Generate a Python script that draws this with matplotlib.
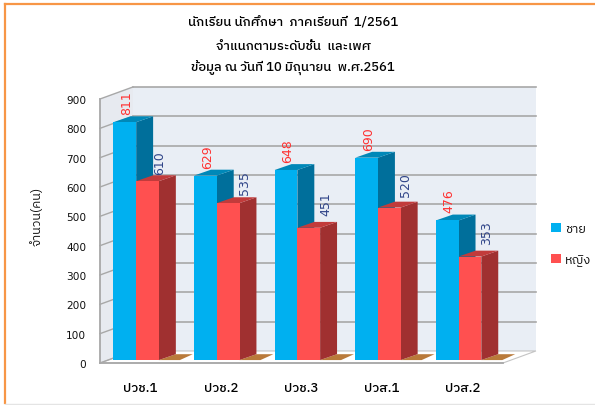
import matplotlib
matplotlib.use("Agg")
import matplotlib.pyplot as plt
from matplotlib.patches import Polygon, Patch
from matplotlib.lines import Line2D
from matplotlib import font_manager as fm

categories = ["ปวช.1", "ปวช.2", "ปวช.3", "ปวส.1", "ปวส.2"]
male = [811, 629, 648, 690, 476]
female = [610, 535, 451, 520, 353]
y_ticks = [0, 100, 200, 300, 400, 500, 600, 700, 800, 900]
title_lines = ["นักเรียน นักศึกษา  ภาคเรียนที่  1/2561",
               "จำแนกตามระดับชั้น  และเพศ",
               "ข้อมูล ณ วันที่ 10 มิถุนายน  พ.ศ.2561"]
series_names = ["ชาย", "หญิง"]

thai = [f.name for f in fm.fontManager.ttflist if "Thai" in f.name]
plt.rcParams["font.family"] = thai[:1] + ["DejaVu Sans"]

W, H = 595, 406
PX_X = 5 / 403      # category units per pixel
PX_Y = 900 / 264    # value units per pixel
fig = plt.figure(figsize=(W / 100, H / 100), dpi=100, facecolor="white")
ax = fig.add_axes([100 / W, (H - 364) / H, 403 / W, 264 / H])
ax.set_xlim(0, 5)
ax.set_ylim(0, 900)
ax.patch.set_visible(False)

WALL_DX, WALL_DY = 0.409, 41
BAR_DX, BAR_DY = 0.21, 20
BAR_W, BAR_X0, BAR_Y0 = 0.282, 0.167, 10
GRID = "#A8A8A8"
# per-label layout nudges in pixels (right of bar centre, above bar top)
FEMALE_LABEL_RIGHT = (12.5, 16, 17.5, 16.5, 17)
FEMALE_LABEL_GAP = (7, 9, 13, 12, 13)

def poly(pts, color, z, edge="none", lw=0):
    ax.add_patch(Polygon(pts, closed=True, facecolor=color, edgecolor=edge,
                         linewidth=lw, zorder=z, clip_on=False))

# walls and floor
poly([(WALL_DX, WALL_DY), (5 + WALL_DX, WALL_DY), (5 + WALL_DX, 900 + WALL_DY), (WALL_DX, 900 + WALL_DY)], "#E9EEF5", 1)
poly([(0, 0), (WALL_DX, WALL_DY), (WALL_DX, 900 + WALL_DY), (0, 900)], "#E7EAF0", 1)
poly([(0, 0), (5, 0), (5 + WALL_DX, WALL_DY), (WALL_DX, WALL_DY)], "white", 1.5, edge="#C4C4C4", lw=0.8)
for v in y_ticks:
    if v > 0:
        ax.plot([WALL_DX, 5 + WALL_DX], [v + WALL_DY, v + WALL_DY], color=GRID, lw=1.2, zorder=2, clip_on=False)
    ax.plot([0, WALL_DX], [v, v + WALL_DY], color=GRID, lw=1.0, zorder=2, clip_on=False)

def bar(x, v, front, top, side, z):
    y0, y1 = BAR_Y0, BAR_Y0 + v
    poly([(x + BAR_W, y0), (x + BAR_W + BAR_DX, y0 + BAR_DY), (x + BAR_W + BAR_DX, y1 + BAR_DY), (x + BAR_W, y1)], side, z)
    poly([(x, y1), (x + BAR_W, y1), (x + BAR_W + BAR_DX, y1 + BAR_DY), (x + BAR_DX, y1 + BAR_DY)], top, z)
    poly([(x, y0), (x + BAR_W, y0), (x + BAR_W, y1), (x, y1)], front, z)

for i, (m, f) in enumerate(zip(male, female)):
    xm = i + BAR_X0
    xf = xm + BAR_W
    end = xf + BAR_W
    # brown floor shadow
    poly([(end, BAR_Y0), (end + BAR_DX, BAR_Y0 + BAR_DY), (end + BAR_DX + 0.21, BAR_Y0 + BAR_DY),
          (end + 0.26, BAR_Y0)], "#B97A3A", 3)
    bar(xm, m, "#00B0F0", "#0088B8", "#006F9B", 4 + i)
    bar(xf, f, "#FF5050", "#C23B3B", "#A03030", 4.5 + i)
    ax.text(xm + BAR_W / 2 + 2 * PX_X, BAR_Y0 + m + 8 * PX_Y, str(m), rotation=90, ha="center", va="bottom",
            color="#FF3030", fontsize=9, family="DejaVu Sans", zorder=20, clip_on=False)
    ax.text(xf + BAR_W / 2 + FEMALE_LABEL_RIGHT[i] * PX_X, BAR_Y0 + f + FEMALE_LABEL_GAP[i] * PX_Y, str(f),
            rotation=90, ha="center", va="bottom",
            color="#2F4488", fontsize=9, family="DejaVu Sans", zorder=20, clip_on=False)

for s in ("top", "right"):
    ax.spines[s].set_visible(False)
for s in ("left", "bottom"):
    ax.spines[s].set_color("#A8A8A8")
    ax.spines[s].set_linewidth(1.3)
    ax.spines[s].set_zorder(30)
ax.set_yticks(y_ticks)
ax.set_xticks([i + 0.5 for i in range(5)])
ax.set_xticklabels(categories, fontsize=9.5, color="#000000", fontweight="medium")
ax.tick_params(axis="both", length=0)
ax.tick_params(axis="x", pad=13)
ax.tick_params(axis="y", pad=10, labelsize=7.6, labelcolor="#111111")
for lab in ax.get_yticklabels():
    lab.set_family("DejaVu Sans")

for line, y in zip(title_lines, (23, 46, 68)):
    fig.text(293 / W, 1 - y / H, line, ha="center", va="center", fontsize=9.4, color="#000000", fontweight="medium")
fig.text(37 / W, 1 - 216 / H, "จำนวน(คน)", rotation=90, ha="center", va="center", fontsize=9, color="#111111")

handles = [Patch(facecolor="#00B0F0", label=series_names[0]), Patch(facecolor="#FF5050", label=series_names[1])]
fig.legend(handles=handles, loc="center left", bbox_to_anchor=(539.5 / W, 1 - 245 / H), frameon=False,
           fontsize=9.2, handlelength=0.78, handleheight=0.78, handletextpad=0.3, labelspacing=1.4,
           labelcolor="#111111")

# outer frame
fig.add_artist(Line2D([5 / W, 1], [1 - 5 / H, 1 - 5 / H], color="#F79646", lw=1.6))
fig.add_artist(Line2D([5 / W, 5 / W], [1 - 5 / H, 2 / H], color="#F79646", lw=1.6))
fig.add_artist(Line2D([5 / W, 1], [1 / H, 1 / H], color="#E4E4E4", lw=1))

fig.savefig("out.png", dpi=100)
